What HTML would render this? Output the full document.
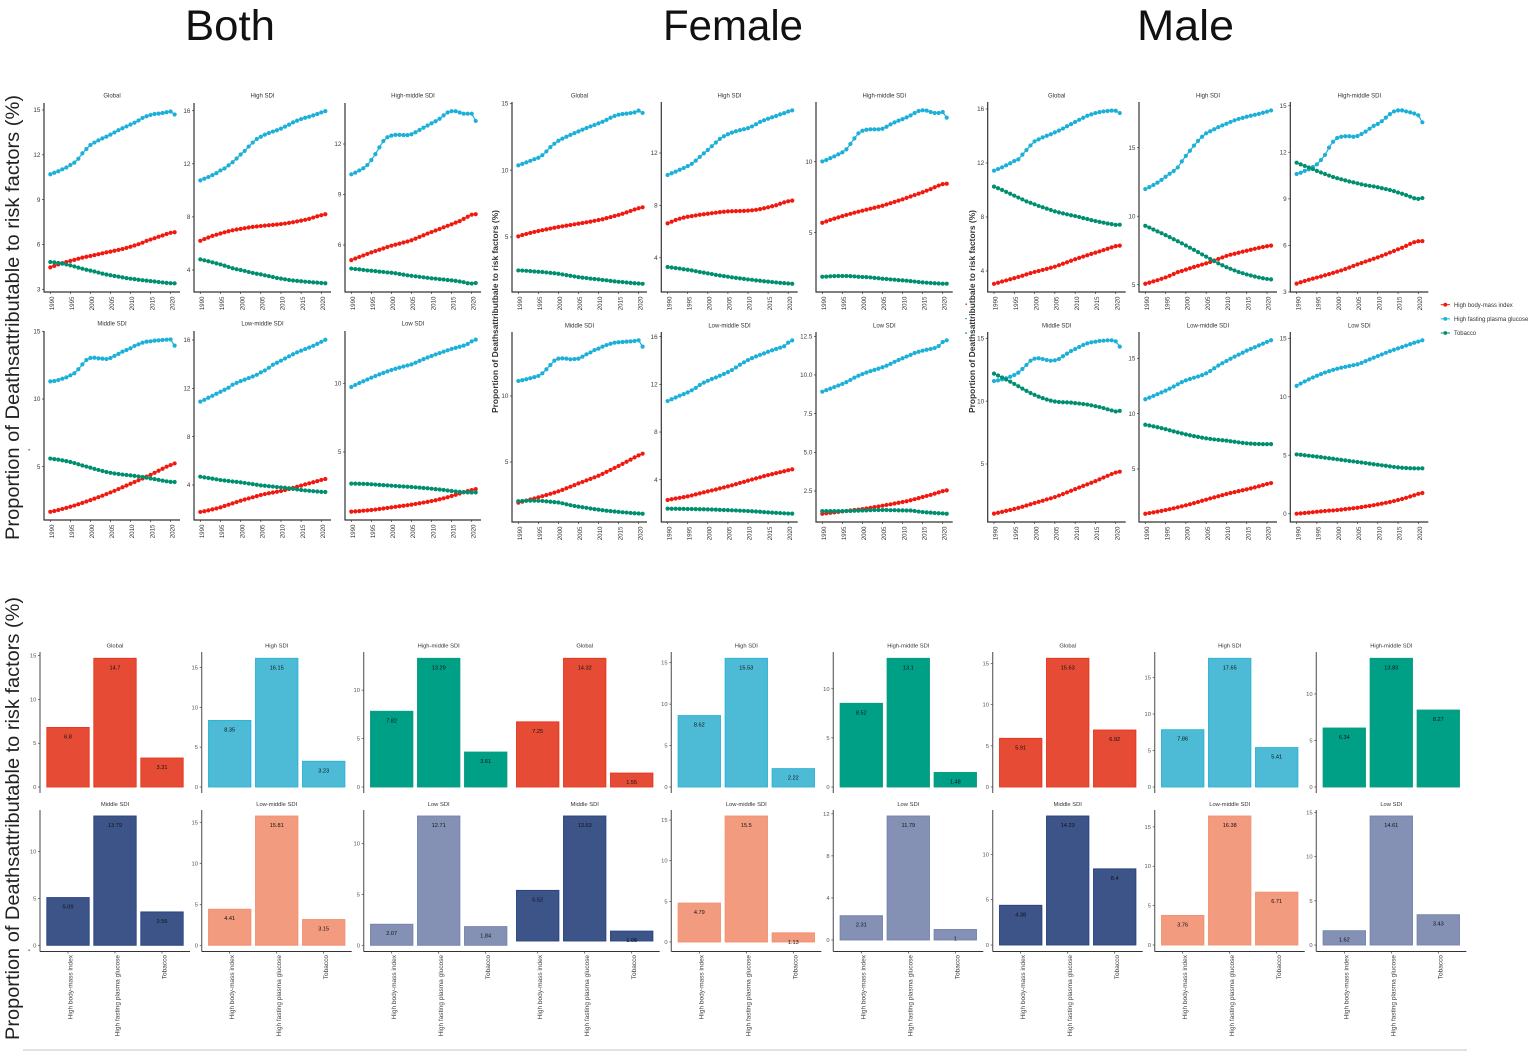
<!DOCTYPE html>
<html lang="en">
<head>
<meta charset="utf-8">
<title>Proportion of deaths attributable to risk factors</title>
<style>
html,body{margin:0;padding:0;background:#fff;}
#chart{display:block;width:1535px;height:1057px;font-family:"Liberation Sans",sans-serif;}
#line-panels,#bar-panels,#legend{filter:blur(0.25px);}
</style>
</head>
<body>
<svg id="chart" xmlns="http://www.w3.org/2000/svg" width="1535" height="1057" viewBox="0 0 1535 1057">
  <defs><clipPath id="stray-clip"><rect x="28.5" y="200" width="3.5" height="220"/></clipPath></defs>
  <text x="230" y="40" font-size="43" text-anchor="middle" textLength="90" lengthAdjust="spacingAndGlyphs" fill="#111">Both</text>
  <text x="733" y="40" font-size="43" text-anchor="middle" textLength="140" lengthAdjust="spacingAndGlyphs" fill="#111">Female</text>
  <text x="1185.500" y="40" font-size="43" text-anchor="middle" textLength="97" lengthAdjust="spacingAndGlyphs" fill="#111">Male</text>
  <text transform="translate(19,540) rotate(-90)" font-size="19.500" textLength="445" lengthAdjust="spacingAndGlyphs" fill="#222">Proportion of Deathsattributable to risk factors (%)</text>
  <text transform="translate(19,1040) rotate(-90)" font-size="19.500" textLength="443" lengthAdjust="spacingAndGlyphs" fill="#222">Proportion of Deathsattributable to risk factors (%)</text>
  <text clip-path="url(#stray-clip)" transform="translate(33,413) rotate(-90)" font-size="8.300" font-weight="bold" textLength="203" lengthAdjust="spacingAndGlyphs" fill="#777">Proportion of Deathsattributbale to risk factors (%)</text>
  <text transform="translate(498,413) rotate(-90)" font-size="8.300" font-weight="bold" textLength="203" lengthAdjust="spacingAndGlyphs" fill="#333">Proportion of Deathsattributbale to risk factors (%)</text>
  <text transform="translate(975,413) rotate(-90)" font-size="8.300" font-weight="bold" textLength="203" lengthAdjust="spacingAndGlyphs" fill="#333">Proportion of Deathsattributbale to risk factors (%)</text>
  <rect x="965.500" y="303.500" width="1.500" height="1.500" fill="#e8382a"/>
  <rect x="965" y="318" width="2" height="1.200" fill="#35c0c8"/>
  <rect x="965" y="332.500" width="2" height="1.200" fill="#1a9c80"/>
  <rect x="28.500" y="449" width="1.200" height="1.500" fill="#555"/>
  <rect x="28.500" y="949.500" width="1.200" height="1.500" fill="#555"/>
  <g id="line-panels"></g>
  <g id="bar-panels"></g>
  <g id="legend"></g>
  <rect x="23" y="1049.300" width="1444" height="1.500" fill="#d5d8dc"/>
</svg>
<script>
// ---------- shared categories and axis labels ----------
const years = [1990,1991,1992,1993,1994,1995,1996,1997,1998,1999,2000,2001,2002,2003,2004,2005,2006,2007,2008,2009,2010,2011,2012,2013,2014,2015,2016,2017,2018,2019,2020,2021];
const yearTicks = [1990,1995,2000,2005,2010,2015,2020];
const riskFactors = ['High body-mass index','High fasting plasma glucose','Tobacco'];

// ---------- line chart values: Both ----------
const bothGlobalBmi = [4.47,4.57,4.67,4.75,4.83, 4.9,4.97,5.05,5.12,5.18, 5.23,5.29,5.35,5.41,5.47, 5.52,5.58,5.64,5.7,5.77, 5.85,5.93,6.02,6.12,6.24, 6.33,6.42,6.52,6.6,6.7, 6.78,6.82];
const bothGlobalGlucose = [10.7,10.8,10.9,11.03,11.15, 11.32,11.48,11.74,12.1,12.39, 12.66,12.82,12.97,13.1,13.22, 13.35,13.5,13.65,13.78,13.9, 14.03,14.15,14.3,14.47,14.58, 14.67,14.73,14.76,14.8,14.85, 14.9,14.7];
const bothGlobalTobacco = [4.83,4.8,4.76,4.72,4.67, 4.6,4.53,4.45,4.38,4.31, 4.25,4.19,4.12,4.05,3.99, 3.94,3.89,3.85,3.8,3.75, 3.71,3.68,3.64,3.61,3.58, 3.55,3.52,3.49,3.46,3.43, 3.41,3.4];
const bothHighBmi = [6.2,6.33,6.45,6.57,6.66, 6.75,6.84,6.92,6.99,7.05, 7.1,7.15,7.2,7.25,7.28, 7.31,7.34,7.37,7.4,7.43, 7.46,7.5,7.55,7.6,7.66, 7.72,7.78,7.85,7.95,8.05, 8.13,8.2];
const bothHighGlucose = [10.75,10.88,11,11.15,11.3, 11.5,11.65,11.88,12.12,12.4, 12.7,12.97,13.3,13.6,13.87, 14.04,14.2,14.32,14.43,14.53, 14.65,14.8,14.95,15.12,15.25, 15.37,15.47,15.55,15.65,15.75, 15.87,15.97];
const bothHighTobacco = [4.8,4.73,4.66,4.58,4.5, 4.42,4.33,4.23,4.13,4.06, 4,3.93,3.85,3.78,3.72, 3.67,3.6,3.54,3.47,3.4, 3.35,3.3,3.25,3.21,3.18, 3.15,3.12,3.1,3.07,3.05, 3.02,3];
const bothHighMiddleBmi = [5.1,5.2,5.29,5.38,5.47, 5.56,5.64,5.72,5.8,5.88, 5.96,6.02,6.08,6.15,6.21, 6.28,6.38,6.48,6.58,6.68, 6.77,6.86,6.95,7.05,7.14, 7.23,7.33,7.42,7.55,7.68, 7.8,7.83];
const bothHighMiddleGlucose = [10.2,10.3,10.43,10.56,10.75, 11.05,11.4,11.8,12.18,12.4, 12.5,12.54,12.54,12.53,12.53, 12.58,12.7,12.83,12.97,13.1, 13.23,13.35,13.5,13.7,13.87, 13.95,13.95,13.87,13.8,13.8, 13.8,13.37];
const bothHighMiddleTobacco = [4.6,4.57,4.55,4.52,4.49, 4.47,4.45,4.42,4.4,4.37, 4.35,4.32,4.28,4.24,4.2, 4.17,4.14,4.11,4.08,4.05, 4.02,4,3.97,3.95,3.92, 3.9,3.87,3.83,3.79,3.73, 3.71,3.74];
const bothMiddleBmi = [1.67,1.73,1.8,1.88,1.96, 2.04,2.13,2.23,2.33,2.43, 2.53,2.64,2.75,2.86,2.98, 3.1,3.22,3.35,3.48,3.61, 3.74,3.87,4,4.13,4.27, 4.4,4.55,4.7,4.85,5, 5.12,5.24];
const bothMiddleGlucose = [11.3,11.33,11.4,11.5,11.6, 11.75,11.9,12.2,12.56,12.88, 13.03,13.05,13,12.98,12.95, 13.03,13.18,13.33,13.5,13.62, 13.75,13.92,14.04,14.16,14.24, 14.26,14.31,14.33,14.36,14.38, 14.4,13.94];
const bothMiddleTobacco = [5.6,5.56,5.52,5.47,5.41, 5.35,5.27,5.18,5.09,5.01, 4.93,4.84,4.76,4.68,4.61, 4.55,4.5,4.46,4.42,4.39, 4.36,4.32,4.28,4.24,4.19, 4.13,4.08,4.03,3.97,3.92, 3.88,3.87];
const bothLowMiddleBmi = [1.77,1.83,1.9,1.98,2.06, 2.15,2.26,2.37,2.48,2.59, 2.7,2.8,2.89,2.98,3.08, 3.17,3.25,3.32,3.38,3.44, 3.5,3.58,3.67,3.76,3.86, 3.95,4.05,4.14,4.23,4.32, 4.42,4.5];
const bothLowMiddleGlucose = [10.9,11.05,11.22,11.38,11.55, 11.72,11.88,12.05,12.3,12.45, 12.6,12.72,12.85,12.98,13.12, 13.32,13.48,13.7,13.95,14.12, 14.29,14.47,14.65,14.82,14.98, 15.12,15.25,15.38,15.52,15.68, 15.85,16.02];
const bothLowMiddleTobacco = [4.69,4.63,4.58,4.53,4.47, 4.41,4.37,4.33,4.29,4.26, 4.22,4.17,4.12,4.07,4.02, 3.97,3.94,3.9,3.87,3.83, 3.8,3.77,3.73,3.68,3.64, 3.59,3.55,3.52,3.49,3.46, 3.43,3.42];
const bothLowBmi = [0.66,0.68,0.7,0.73,0.75, 0.78,0.81,0.85,0.89,0.93, 0.97,1.01,1.05,1.09,1.13, 1.17,1.22,1.27,1.32,1.37, 1.43,1.49,1.56,1.63,1.71, 1.8,1.89,1.98,2.07,2.15, 2.23,2.3];
const bothLowGlucose = [9.73,9.88,10.02,10.15,10.28, 10.41,10.53,10.65,10.76,10.87, 10.97,11.06,11.14,11.22,11.3, 11.38,11.5,11.63,11.76,11.88, 11.99,12.1,12.2,12.3,12.4, 12.5,12.58,12.66,12.74,12.86, 13.05,13.18];
const bothLowTobacco = [2.7,2.7,2.69,2.68,2.67, 2.65,2.63,2.61,2.59,2.57, 2.55,2.53,2.51,2.49,2.47, 2.45,2.43,2.41,2.38,2.36, 2.33,2.3,2.27,2.24,2.2, 2.16,2.13,2.1,2.08,2.06, 2.05,2.06];

// ---------- line chart values: Female ----------
const femaleGlobalBmi = [5.05,5.15,5.23,5.31,5.38, 5.45,5.51,5.57,5.63,5.69, 5.75,5.8,5.85,5.9,5.95, 6,6.05,6.1,6.15,6.21, 6.27,6.33,6.41,6.49,6.57, 6.65,6.74,6.84,6.95,7.06, 7.15,7.22];
const femaleGlobalGlucose = [10.36,10.47,10.58,10.7,10.82, 10.93,11.12,11.4,11.72,11.98, 12.2,12.36,12.5,12.64,12.77, 12.9,13.03,13.15,13.27,13.38, 13.5,13.62,13.76,13.92,14.05, 14.15,14.2,14.23,14.27,14.32, 14.45,14.28];
const femaleGlobalTobacco = [2.5,2.49,2.47,2.45,2.42, 2.4,2.38,2.35,2.32,2.29, 2.25,2.2,2.15,2.1,2.05, 2,1.96,1.93,1.89,1.86, 1.83,1.79,1.76,1.72,1.68, 1.65,1.63,1.6,1.57,1.54, 1.52,1.5];
const femaleHighBmi = [6.62,6.75,6.88,6.98,7.06, 7.13,7.18,7.23,7.28,7.32, 7.36,7.4,7.44,7.48,7.51, 7.54,7.55,7.56,7.57,7.58, 7.6,7.62,7.66,7.71,7.78, 7.85,7.93,8.01,8.12,8.23, 8.31,8.36];
const femaleHighGlucose = [10.32,10.45,10.58,10.72,10.85, 11,11.17,11.42,11.7,11.97, 12.23,12.52,12.8,13.08,13.28, 13.43,13.56,13.66,13.75,13.82, 13.9,14.03,14.2,14.38,14.5, 14.62,14.73,14.83,14.95,15.05, 15.17,15.26];
const femaleHighTobacco = [3.29,3.25,3.21,3.17,3.12, 3.08,3.03,2.97,2.91,2.86, 2.8,2.75,2.69,2.64,2.59, 2.55,2.5,2.46,2.42,2.38, 2.34,2.31,2.27,2.24,2.2, 2.17,2.14,2.11,2.08,2.06, 2.03,2.01];
const femaleHighMiddleBmi = [5.7,5.8,5.9,5.99,6.08, 6.17,6.25,6.33,6.41,6.48, 6.55,6.62,6.69,6.76,6.83, 6.9,6.99,7.08,7.17,7.26, 7.35,7.45,7.55,7.65,7.75, 7.85,7.96,8.07,8.2,8.32, 8.42,8.45];
const femaleHighMiddleGlucose = [10.02,10.12,10.25,10.38,10.52, 10.66,10.87,11.25,11.64,12, 12.18,12.25,12.28,12.28,12.28, 12.32,12.46,12.63,12.77,12.89, 13,13.12,13.26,13.43,13.57, 13.62,13.6,13.5,13.43,13.43, 13.5,13.1];
const femaleHighMiddleTobacco = [1.9,1.91,1.93,1.94,1.95, 1.95,1.95,1.94,1.92,1.9, 1.88,1.87,1.85,1.82,1.79, 1.76,1.74,1.71,1.69,1.66, 1.64,1.62,1.59,1.56,1.53, 1.5,1.48,1.46,1.44,1.42, 1.41,1.41];
const femaleMiddleBmi = [1.92,2,2.08,2.16,2.24, 2.32,2.41,2.5,2.59,2.68, 2.78,2.89,3.01,3.13,3.25, 3.38,3.49,3.61,3.72,3.84, 3.96,4.1,4.25,4.4,4.55, 4.7,4.86,5.02,5.18,5.35, 5.5,5.63];
const femaleMiddleGlucose = [11.14,11.2,11.27,11.35,11.43, 11.52,11.72,12.02,12.35,12.68, 12.83,12.85,12.83,12.78,12.8, 12.83,12.98,13.16,13.3,13.48, 13.59,13.74,13.86,13.96,14.04, 14.07,14.09,14.12,14.14,14.17, 14.22,13.74];
const femaleMiddleTobacco = [2.03,2.05,2.06,2.07,2.07, 2.06,2.05,2.02,1.99,1.96, 1.93,1.87,1.8,1.73,1.67, 1.62,1.57,1.53,1.48,1.43, 1.39,1.35,1.31,1.28,1.25, 1.22,1.19,1.17,1.14,1.12, 1.1,1.08];
const femaleLowMiddleBmi = [2.3,2.36,2.42,2.48,2.54, 2.6,2.68,2.77,2.85,2.94, 3.02,3.1,3.18,3.27,3.35, 3.44,3.53,3.63,3.73,3.82, 3.92,4.02,4.11,4.2,4.3, 4.39,4.47,4.55,4.63,4.71, 4.8,4.87];
const femaleLowMiddleGlucose = [10.6,10.75,10.9,11.05,11.18, 11.33,11.5,11.7,11.95,12.15, 12.3,12.45,12.58,12.72,12.87, 13.03,13.2,13.42,13.65,13.85, 14.04,14.2,14.35,14.48,14.6, 14.74,14.86,14.97,15.08,15.2, 15.5,15.69];
const femaleLowMiddleTobacco = [1.57,1.56,1.56,1.55,1.55, 1.54,1.54,1.53,1.52,1.52, 1.51,1.5,1.49,1.47,1.46, 1.45,1.43,1.42,1.4,1.39, 1.37,1.35,1.33,1.31,1.28, 1.26,1.24,1.22,1.2,1.18, 1.16,1.15];
const femaleLowBmi = [1.03,1.06,1.09,1.12,1.15, 1.18,1.21,1.24,1.27,1.3, 1.33,1.37,1.41,1.46,1.5, 1.55,1.6,1.64,1.69,1.74, 1.79,1.84,1.9,1.97,2.04, 2.11,2.18,2.25,2.33,2.41, 2.49,2.54];
const femaleLowGlucose = [8.92,9.02,9.12,9.22,9.32, 9.42,9.54,9.68,9.83,9.95, 10.06,10.16,10.25,10.33,10.41, 10.5,10.6,10.72,10.85,10.97, 11.08,11.19,11.3,11.42,11.5, 11.57,11.63,11.68,11.74,11.87, 12.13,12.24];
const femaleLowTobacco = [1.2,1.2,1.2,1.2,1.2, 1.2,1.21,1.21,1.22,1.23, 1.24,1.25,1.26,1.27,1.27, 1.27,1.27,1.26,1.26,1.25, 1.25,1.24,1.24,1.21,1.17, 1.14,1.12,1.1,1.08,1.06, 1.05,1.03];

// ---------- line chart values: Male ----------
const maleGlobalBmi = [3.05,3.13,3.22,3.3,3.39, 3.47,3.56,3.65,3.75,3.84, 3.93,4,4.08,4.16,4.24, 4.32,4.43,4.54,4.65,4.76, 4.87,4.97,5.07,5.17,5.27, 5.36,5.45,5.55,5.65,5.75, 5.84,5.88];
const maleGlobalGlucose = [11.43,11.55,11.68,11.83,11.98, 12.15,12.27,12.62,12.96,13.3, 13.6,13.75,13.9,14.02,14.13, 14.27,14.4,14.55,14.72,14.88, 15.04,15.2,15.35,15.5,15.6, 15.7,15.77,15.82,15.85,15.88, 15.87,15.7];
const maleGlobalTobacco = [10.25,10.13,10,9.86,9.72, 9.58,9.44,9.3,9.16,9.05, 8.94,8.82,8.72,8.62,8.52, 8.42,8.34,8.27,8.2,8.13, 8.07,8,7.92,7.85,7.77, 7.7,7.64,7.58,7.52,7.47, 7.42,7.43];
const maleHighBmi = [5.07,5.15,5.24,5.33,5.43, 5.53,5.65,5.78,5.92,6, 6.1,6.2,6.29,6.38,6.47, 6.56,6.66,6.77,6.88,6.99, 7.1,7.19,7.26,7.33,7.41, 7.48,7.55,7.62,7.69,7.75, 7.81,7.85];
const maleHighGlucose = [11.98,12.12,12.28,12.45,12.65, 12.88,13.1,13.3,13.56,14, 14.4,14.78,15.15,15.5,15.8, 16.05,16.2,16.35,16.5,16.63, 16.75,16.88,17,17.1,17.18, 17.26,17.33,17.4,17.47,17.55, 17.63,17.72];
const maleHighTobacco = [9.3,9.17,9.03,8.89,8.76, 8.62,8.47,8.32,8.17,8.02, 7.86,7.7,7.54,7.38,7.21, 7.05,6.88,6.72,6.56,6.42, 6.28,6.16,6.04,5.93,5.84, 5.75,5.67,5.6,5.53,5.47, 5.42,5.39];
const maleHighMiddleBmi = [3.54,3.63,3.71,3.79,3.86, 3.93,4,4.08,4.15,4.23, 4.31,4.39,4.48,4.58,4.68, 4.78,4.87,4.96,5.05,5.14, 5.23,5.33,5.43,5.54,5.64, 5.75,5.85,5.97,6.1,6.21, 6.27,6.28];
const maleHighMiddleGlucose = [10.6,10.68,10.8,10.9,11.05, 11.22,11.5,11.83,12.3,12.68, 12.92,13,13.03,13.03,13, 13.05,13.18,13.33,13.52,13.7, 13.82,14,14.23,14.46,14.63, 14.7,14.7,14.63,14.57,14.5, 14.38,13.93];
const maleHighMiddleTobacco = [11.33,11.22,11.12,11.02,10.92, 10.8,10.7,10.6,10.5,10.41, 10.33,10.26,10.19,10.12,10.06, 10,9.93,9.88,9.84,9.8, 9.75,9.69,9.63,9.57,9.5, 9.41,9.33,9.24,9.14,9.04, 9,9.05];
const maleMiddleBmi = [1.05,1.12,1.19,1.27,1.34, 1.42,1.51,1.6,1.7,1.8, 1.9,1.99,2.08,2.18,2.27, 2.37,2.49,2.61,2.74,2.87, 3,3.13,3.26,3.38,3.51, 3.64,3.78,3.92,4.06,4.2, 4.32,4.39];
const maleMiddleGlucose = [11.6,11.65,11.73,11.82,11.94, 12.08,12.27,12.56,12.88,13.22, 13.38,13.41,13.35,13.27,13.22, 13.25,13.35,13.57,13.78,13.99, 14.15,14.31,14.47,14.6,14.68, 14.73,14.79,14.81,14.84,14.84, 14.76,14.34];
const maleMiddleTobacco = [12.19,12.04,11.88,11.72,11.55, 11.37,11.19,11,10.82,10.65, 10.5,10.36,10.24,10.13,10.04, 9.97,9.93,9.91,9.9,9.88, 9.84,9.81,9.77,9.73,9.67, 9.6,9.53,9.45,9.35,9.26, 9.18,9.23];
const maleLowMiddleBmi = [0.96,1.02,1.08,1.15,1.22, 1.29,1.37,1.45,1.54,1.63, 1.72,1.82,1.92,2.02,2.13, 2.23,2.34,2.44,2.54,2.64, 2.74,2.83,2.91,3,3.08, 3.16,3.25,3.34,3.44,3.54, 3.65,3.73];
const maleLowMiddleGlucose = [11.3,11.45,11.6,11.76,11.92, 12.08,12.26,12.45,12.65,12.85, 13.01,13.13,13.25,13.36,13.48, 13.64,13.85,14.1,14.35,14.56, 14.76,14.96,15.15,15.33,15.5, 15.69,15.85,16,16.17,16.32, 16.48,16.63];
const maleLowMiddleTobacco = [9,8.93,8.85,8.77,8.69, 8.6,8.5,8.4,8.31,8.22, 8.13,8.05,7.97,7.9,7.83, 7.77,7.72,7.67,7.63,7.6, 7.56,7.51,7.46,7.41,7.36, 7.32,7.29,7.27,7.26,7.25, 7.25,7.25];
const maleLowBmi = [0,0.03,0.06,0.09,0.13, 0.17,0.2,0.23,0.26,0.28, 0.31,0.35,0.39,0.43,0.47, 0.51,0.56,0.62,0.67,0.73, 0.8,0.86,0.93,1,1.08, 1.17,1.26,1.36,1.47,1.58, 1.7,1.77];
const maleLowGlucose = [10.93,11.13,11.31,11.49,11.65, 11.8,11.94,12.07,12.19,12.3, 12.4,12.48,12.56,12.63,12.7, 12.77,12.9,13.05,13.2,13.34, 13.48,13.62,13.76,13.9,14.02, 14.14,14.26,14.38,14.5,14.62, 14.72,14.83];
const maleLowTobacco = [5.07,5.04,5,4.96,4.92, 4.88,4.84,4.79,4.74,4.7, 4.65,4.6,4.56,4.51,4.47, 4.42,4.38,4.33,4.28,4.23, 4.19,4.14,4.1,4.05,4, 3.96,3.93,3.91,3.89,3.88, 3.87,3.88];

// ---------- line chart y tick labels ----------
const ticks15by3 = [15,12,9,6,3];
const ticks16by4 = [16,12,8,4];
const ticks12by4 = [12,8,4];
const ticks12by3 = [12,9,6];
const ticks15by5 = [15,10,5];
const ticks10by5 = [10,5];
const ticks15to0 = [15,10,5,0];
const ticks125 = [12.5,10,7.5,5,2.5];

// ---------- bar chart values (order follows riskFactors) ----------
const barBothGlobal = [6.8,14.7,3.31];
const barBothHigh = [8.35,16.15,3.23];
const barBothHighMiddle = [7.82,13.29,3.61];
const barBothMiddle = [5.09,13.79,3.56];
const barBothLowMiddle = [4.41,15.81,3.15];
const barBothLow = [2.07,12.71,1.84];
const barFemaleGlobal = [7.25,14.32,1.55];
const barFemaleHigh = [8.62,15.53,2.22];
const barFemaleHighMiddle = [8.52,13.1,1.48];
const barFemaleMiddle = [5.52,13.63,1.08];
const barFemaleLowMiddle = [4.79,15.5,1.13];
const barFemaleLow = [2.31,11.79,1];
const barMaleGlobal = [5.91,15.63,6.92];
const barMaleHigh = [7.86,17.65,5.41];
const barMaleHighMiddle = [6.34,13.83,8.27];
const barMaleMiddle = [4.38,14.23,8.4];
const barMaleLowMiddle = [3.76,16.38,6.71];
const barMaleLow = [1.62,14.61,3.43];

// ---------- bar chart y tick labels ----------
const barTicks15 = [0,5,10,15];
const barTicks10 = [0,5,10];
const barTicks12 = [0,4,8,12];
const barTicksNone = [];

// ---------- styling ----------
const seriesColors = {bmi:'#f0190f', glucose:'#1cb0d8', tobacco:'#008f6e'};
const textColor = '#3a3a3a';
const NS = 'http://www.w3.org/2000/svg';
const linePanelsRoot = document.getElementById('line-panels');
const barPanelsRoot = document.getElementById('bar-panels');
const legendRoot = document.getElementById('legend');

function make(tag, attrs, parent, content) {
  const node = document.createElementNS(NS, tag);
  for (const key in attrs) node.setAttribute(key, attrs[key]);
  if (content !== undefined) node.textContent = content;
  parent.appendChild(node);
  return node;
}
function linear(v1, p1, v2, p2) {
  return function (v) { return p1 + (v - v1) * (p2 - p1) / (v2 - v1); };
}
function formatTick(v, list) {
  return list.some(function (t) { return t % 1 !== 0; }) ? v.toFixed(1) : String(v);
}

// ---------- line panels ----------
function drawLinePanel(p) {
  const g = make('g', {}, linePanelsRoot);
  
  
  const xScale = linear(years[0], p.axisX + 6.3, yearTicks[yearTicks.length - 1], p.axisX + 6.3 + p.xSpan);
  const yScale = linear(p.cal[0], p.cal[1], p.cal[2], p.cal[3]);

  const title = make('text', {x:(p.axisX + p.right) / 2, y:p.bottom - 196.3 + 2, 'font-size':6, 'text-anchor':'middle', fill:'#333'}, g, p.title);
  
  

  const yAxis = make('line', {x1:p.axisX, x2:p.axisX, y1:p.top, y2:p.bottom, stroke:'#333', 'stroke-width':1.2}, g);
  
  
  const xAxis = make('line', {x1:p.axisX - 0.5, x2:p.right, y1:p.bottom, y2:p.bottom, stroke:'#333', 'stroke-width':1.2}, g);
  
  

  p.ticks.forEach(function (t) {
    const py = yScale(t);
    const mark = make('line', {x1:p.axisX - 2, x2:p.axisX, y1:py, y2:py, stroke:'#333', 'stroke-width':0.7}, g);
    
    
    const label = make('text', {x:p.axisX - 3.6, y:py + 2.2, 'font-size':6.3, 'text-anchor':'end', fill:textColor}, g, formatTick(t, p.ticks));
    
    
  });
  yearTicks.forEach(function (yr) {
    const px = xScale(yr);
    const mark = make('line', {x1:px, x2:px, y1:p.bottom, y2:p.bottom + 2, stroke:'#333', 'stroke-width':0.7}, g);
    
    
    const label = make('text', {transform:'translate(' + (px + 3.7) + ',' + (p.bottom + 4.5) + ') rotate(-90)', 'font-size':6.2, 'text-anchor':'end', fill:textColor}, g, String(yr));
    
    
  });

  ['bmi','glucose','tobacco'].forEach(function (key) {
    const values = p[key];
    const pts = values.map(function (v, i) { return xScale(years[i]).toFixed(2) + ',' + yScale(v).toFixed(2); });
    const line = make('polyline', {points:pts.join(' '), fill:'none', stroke:seriesColors[key], 'stroke-width':1.2}, g);
    
    
    values.forEach(function (v, i) {
      const dot = make('circle', {cx:xScale(years[i]), cy:yScale(v), r:2.1, fill:seriesColors[key]}, g);
      
      
    });
  });
}

const linePanels = [
  {id:'both-global', title:'Global', axisX:44, right:180, xSpan:120.3, top:103, bottom:292, cal:[15,110,3,289.3], ticks:ticks15by3, bmi:bothGlobalBmi, glucose:bothGlobalGlucose, tobacco:bothGlobalTobacco},
  {id:'both-high', title:'High SDI', axisX:194, right:331, xSpan:121, top:103, bottom:292, cal:[16,110.7,4,270], ticks:ticks16by4, bmi:bothHighBmi, glucose:bothHighGlucose, tobacco:bothHighTobacco},
  {id:'both-high-middle', title:'High-middle SDI', axisX:345, right:481, xSpan:120.4, top:103, bottom:292, cal:[12,144,6,245], ticks:ticks12by3, bmi:bothHighMiddleBmi, glucose:bothHighMiddleGlucose, tobacco:bothHighMiddleTobacco},
  {id:'both-middle', title:'Middle SDI', axisX:44, right:180, xSpan:120.3, top:331, bottom:520, cal:[15,331.3,5,466.7], ticks:ticks15by5, bmi:bothMiddleBmi, glucose:bothMiddleGlucose, tobacco:bothMiddleTobacco},
  {id:'both-low-middle', title:'Low-middle SDI', axisX:194, right:331, xSpan:121, top:331, bottom:520, cal:[16,340,4,485], ticks:ticks16by4, bmi:bothLowMiddleBmi, glucose:bothLowMiddleGlucose, tobacco:bothLowMiddleTobacco},
  {id:'both-low', title:'Low SDI', axisX:345, right:481, xSpan:120.4, top:331, bottom:520, cal:[10,383.3,5,452], ticks:ticks10by5, bmi:bothLowBmi, glucose:bothLowGlucose, tobacco:bothLowTobacco},
  {id:'female-global', title:'Global', axisX:512, right:647, xSpan:120.3, top:102, bottom:292, cal:[15,103.3,5,237], ticks:ticks15by5, bmi:femaleGlobalBmi, glucose:femaleGlobalGlucose, tobacco:femaleGlobalTobacco},
  {id:'female-high', title:'High SDI', axisX:661.3, right:797.7, xSpan:120.6, top:102, bottom:292, cal:[12,153,4,257.7], ticks:ticks12by4, bmi:femaleHighBmi, glucose:femaleHighGlucose, tobacco:femaleHighTobacco},
  {id:'female-high-middle', title:'High-middle SDI', axisX:816, right:952.7, xSpan:120.4, top:102, bottom:292, cal:[10,161.7,5,232.7], ticks:ticks10by5, bmi:femaleHighMiddleBmi, glucose:femaleHighMiddleGlucose, tobacco:femaleHighMiddleTobacco},
  {id:'female-middle', title:'Middle SDI', axisX:512, right:647, xSpan:120.3, top:332, bottom:522, cal:[10,396,5,462], ticks:ticks10by5, bmi:femaleMiddleBmi, glucose:femaleMiddleGlucose, tobacco:femaleMiddleTobacco},
  {id:'female-low-middle', title:'Low-middle SDI', axisX:661.3, right:797.7, xSpan:120.6, top:332, bottom:522, cal:[16,336.7,4,479.7], ticks:ticks16by4, bmi:femaleLowMiddleBmi, glucose:femaleLowMiddleGlucose, tobacco:femaleLowMiddleTobacco},
  {id:'female-low', title:'Low SDI', axisX:816, right:952.7, xSpan:120.4, top:332, bottom:522, cal:[12.5,336.3,2.5,491], ticks:ticks125, bmi:femaleLowBmi, glucose:femaleLowGlucose, tobacco:femaleLowTobacco},
  {id:'male-global', title:'Global', axisX:987.7, right:1125.7, xSpan:121.7, top:102, bottom:292, cal:[16,109,4,271], ticks:ticks16by4, bmi:maleGlobalBmi, glucose:maleGlobalGlucose, tobacco:maleGlobalTobacco},
  {id:'male-high', title:'High SDI', axisX:1139, right:1277, xSpan:121.7, top:102, bottom:292, cal:[15,147.7,5,284.7], ticks:ticks15by5, bmi:maleHighBmi, glucose:maleHighGlucose, tobacco:maleHighTobacco},
  {id:'male-high-middle', title:'High-middle SDI', axisX:1290.3, right:1428.3, xSpan:121.7, top:102, bottom:292, cal:[15,105.7,3,292], ticks:ticks15by3, bmi:maleHighMiddleBmi, glucose:maleHighMiddleGlucose, tobacco:maleHighMiddleTobacco},
  {id:'male-middle', title:'Middle SDI', axisX:987.7, right:1125.7, xSpan:121.7, top:332, bottom:522, cal:[15,338.3,5,464], ticks:ticks15by5, bmi:maleMiddleBmi, glucose:maleMiddleGlucose, tobacco:maleMiddleTobacco},
  {id:'male-low-middle', title:'Low-middle SDI', axisX:1139, right:1277, xSpan:121.7, top:332, bottom:522, cal:[15,358.3,5,469], ticks:ticks15by5, bmi:maleLowMiddleBmi, glucose:maleLowMiddleGlucose, tobacco:maleLowMiddleTobacco},
  {id:'male-low', title:'Low SDI', axisX:1290.3, right:1428.3, xSpan:121.7, top:332, bottom:522, cal:[15,338.3,0,513.7], ticks:ticks15to0, bmi:maleLowBmi, glucose:maleLowGlucose, tobacco:maleLowTobacco}
];
linePanels.forEach(drawLinePanel);

// ---------- bar panels ----------
const barStyles = {
  global:{fill:'#e64b35', stroke:'#e8361c'},
  high:{fill:'#4dbbd5', stroke:'#2cb3d4'},
  highMiddle:{fill:'#00a087', stroke:'#0b9c80'},
  middle:{fill:'#3c5488', stroke:'#264280'},
  lowMiddle:{fill:'#f39b7f', stroke:'#f29272'},
  low:{fill:'#8491b4', stroke:'#7383ad'}
};
const BAR_WIDTH = 42.4;
const BAR_STEP = 47;
const BAR_INSET = 6.8;

function drawBarPanel(p) {
  const g = make('g', {}, barPanelsRoot);
  
  
  const maxValue = Math.max.apply(null, p.values);
  const yScale = linear(0, p.base, maxValue, p.peak);
  const bandLeft = function (i) { return p.axisX + BAR_INSET + i * BAR_STEP; };
  const style = barStyles[p.style];

  const title = make('text', {x:bandLeft(1) + BAR_WIDTH / 2, y:p.row === 1 ? 647.7 : 806, 'font-size':5.8, 'text-anchor':'middle', fill:'#333'}, g, p.title);
  
  

  if (p.ticks.length) {
    const yAxis = make('line', {x1:p.axisX, x2:p.axisX, y1:p.row === 1 ? 652 : 810, y2:p.row === 1 ? 793 : 951.5, stroke:'#666', 'stroke-width':1.2}, g);
    
    
  }
  p.ticks.forEach(function (t) {
    const py = yScale(t);
    const mark = make('line', {x1:p.axisX - 2, x2:p.axisX, y1:py, y2:py, stroke:'#444', 'stroke-width':0.7}, g);
    
    
    const label = make('text', {x:p.axisX - 3.7, y:py + 2, 'font-size':5.8, 'text-anchor':'end', fill:'#555'}, g, String(t));
    
    
  });

  if (p.row === 2) {
    const xAxis = make('line', {x1:p.axisX, x2:p.axisX + 150, y1:951.5, y2:951.5, stroke:'#333', 'stroke-width':1}, g);
    
    
  }

  p.values.forEach(function (v, i) {
    const top = yScale(v);
    const bar = make('rect', {x:bandLeft(i), y:top, width:BAR_WIDTH, height:p.base - top, fill:style.fill, stroke:style.stroke, 'stroke-width':0.9}, g);
    
    
    const printed = make('text', {x:bandLeft(i) + BAR_WIDTH / 2, y:top + 11, 'font-size':5.6, 'text-anchor':'middle', fill:'#111'}, g, String(v));
    
    
    if (p.row === 2) {
      const center = bandLeft(i) + BAR_WIDTH / 2;
      const mark = make('line', {x1:center, x2:center, y1:951.5, y2:953.5, stroke:'#333', 'stroke-width':0.7}, g);
      
      
      const label = make('text', {transform:'translate(' + (center + 4.4) + ',955) rotate(-90)', 'font-size':6.5, 'text-anchor':'end', fill:'#444'}, g, riskFactors[i]);
      
      
    }
  });
}

const barPanels = [
  {id:'both-global', title:'Global', style:'global', row:1, axisX:40, base:787, peak:658.3, values:barBothGlobal, ticks:barTicks15},
  {id:'both-high', title:'High SDI', style:'high', row:1, axisX:201.7, base:787, peak:658.3, values:barBothHigh, ticks:barTicks15},
  {id:'both-high-middle', title:'High-middle SDI', style:'highMiddle', row:1, axisX:363.7, base:787, peak:658.3, values:barBothHighMiddle, ticks:barTicks10},
  {id:'both-middle', title:'Middle SDI', style:'middle', row:2, axisX:40, base:945.3, peak:816, values:barBothMiddle, ticks:barTicks10},
  {id:'both-low-middle', title:'Low-middle SDI', style:'lowMiddle', row:2, axisX:201.7, base:945.3, peak:816, values:barBothLowMiddle, ticks:barTicks15},
  {id:'both-low', title:'Low SDI', style:'low', row:2, axisX:363.7, base:945.3, peak:816, values:barBothLow, ticks:barTicks10},
  {id:'female-global', title:'Global', style:'global', row:1, axisX:509.7, base:787, peak:658.3, values:barFemaleGlobal, ticks:barTicksNone},
  {id:'female-high', title:'High SDI', style:'high', row:1, axisX:671.3, base:787, peak:658.3, values:barFemaleHigh, ticks:barTicks15},
  {id:'female-high-middle', title:'High-middle SDI', style:'highMiddle', row:1, axisX:833.3, base:787, peak:658.3, values:barFemaleHighMiddle, ticks:barTicks10},
  {id:'female-middle', title:'Middle SDI', style:'middle', row:2, axisX:509.7, base:941, peak:816, values:barFemaleMiddle, ticks:barTicksNone},
  {id:'female-low-middle', title:'Low-middle SDI', style:'lowMiddle', row:2, axisX:671.3, base:942, peak:816, values:barFemaleLowMiddle, ticks:barTicks15},
  {id:'female-low', title:'Low SDI', style:'low', row:2, axisX:833.3, base:940, peak:816, values:barFemaleLow, ticks:barTicks12},
  {id:'male-global', title:'Global', style:'global', row:1, axisX:992.7, base:787, peak:658.3, values:barMaleGlobal, ticks:barTicks15},
  {id:'male-high', title:'High SDI', style:'high', row:1, axisX:1154.7, base:787, peak:658.3, values:barMaleHigh, ticks:barTicks15},
  {id:'male-high-middle', title:'High-middle SDI', style:'highMiddle', row:1, axisX:1316.3, base:787, peak:658.3, values:barMaleHighMiddle, ticks:barTicks10},
  {id:'male-middle', title:'Middle SDI', style:'middle', row:2, axisX:992.7, base:945, peak:816, values:barMaleMiddle, ticks:barTicks10},
  {id:'male-low-middle', title:'Low-middle SDI', style:'lowMiddle', row:2, axisX:1154.7, base:945, peak:816, values:barMaleLowMiddle, ticks:barTicks15},
  {id:'male-low', title:'Low SDI', style:'low', row:2, axisX:1316.3, base:945, peak:816, values:barMaleLow, ticks:barTicks15}
];
barPanels.forEach(drawBarPanel);

// ---------- legend ----------
const legendKeys = ['bmi','glucose','tobacco'];
legendKeys.forEach(function (key, i) {
  const rowY = 304.7 + i * 14.15;
  const entry = make('g', {}, legendRoot);
  
  
  const swatchLine = make('line', {x1:1440.7, x2:1450, y1:rowY, y2:rowY, stroke:seriesColors[key], 'stroke-width':1}, entry);
  
  
  const swatchDot = make('circle', {cx:1445.3, cy:rowY, r:1.9, fill:seriesColors[key]}, entry);
  
  
  const label = make('text', {x:1454, y:rowY + 2.2, 'font-size':5.95, fill:'#333'}, entry, riskFactors[i]);
  
  
});
</script>
</body>
</html>
